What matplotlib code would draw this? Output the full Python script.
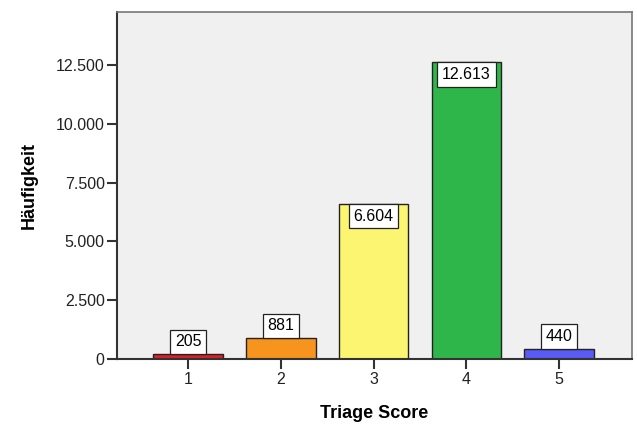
import numpy as np
import matplotlib.pyplot as plt
from matplotlib.ticker import FuncFormatter

plt.rcParams['font.family'] = ['Liberation Sans', 'DejaVu Sans']

# Daten
scores = ['1', '2', '3', '4', '5']
counts = [205, 881, 6604, 12613, 440]
colors = ['#dc2029', '#f7941d', '#fbf572', '#2fb64a', '#5a5af5']
yticks = [0, 2500, 5000, 7500, 10000, 12500]


def de_fmt(v):
    return f'{int(v):,}'.replace(',', '.')


fig = plt.figure(figsize=(6.37, 4.26), dpi=100)
ax = fig.add_axes([0.184, 0.157, 0.808, 0.815])
ax.set_facecolor('#f0f0f0')

x = np.arange(1, len(scores) + 1)
ax.bar(x, counts, width=0.75, color=colors, edgecolor='#222222', linewidth=1.0, zorder=2)

# Wertelabels in Kästchen
box = dict(boxstyle='square,pad=0.3', fc='white', ec='#222222', lw=0.9)
for xi, c in zip(x, counts):
    if c > 3000:
        ax.annotate(de_fmt(c), (xi, c), xytext=(0, -3.6), textcoords='offset points',
                    ha='center', va='top', fontsize=11.5, bbox=box, zorder=3)
    else:
        ax.annotate(de_fmt(c), (xi, c), xytext=(0, 3.6), textcoords='offset points',
                    ha='center', va='bottom', fontsize=11.5, bbox=box, zorder=3)

ax.set_xlim(0.235, 5.785)
ax.set_ylim(0, 14750)
ax.set_xticks(x)
ax.set_xticklabels(scores)
ax.set_yticks(yticks)
ax.yaxis.set_major_formatter(FuncFormatter(lambda v, p: de_fmt(v)))
ax.tick_params(axis='both', direction='out', length=7, width=1.5, color='#333333',
               labelsize=11.5, labelcolor='#222222', pad=2)

for s in ['left', 'bottom']:
    ax.spines[s].set_color('#333333')
    ax.spines[s].set_linewidth(1.5)
for s in ['top', 'right']:
    ax.spines[s].set_color('#777777')
    ax.spines[s].set_linewidth(1.2)

ax.set_xlabel('Triage Score', fontsize=13, fontweight='bold', labelpad=13)
ax.set_ylabel('Häufigkeit', fontsize=13, fontweight='bold', labelpad=13)

plt.savefig('out.png', dpi=100)
